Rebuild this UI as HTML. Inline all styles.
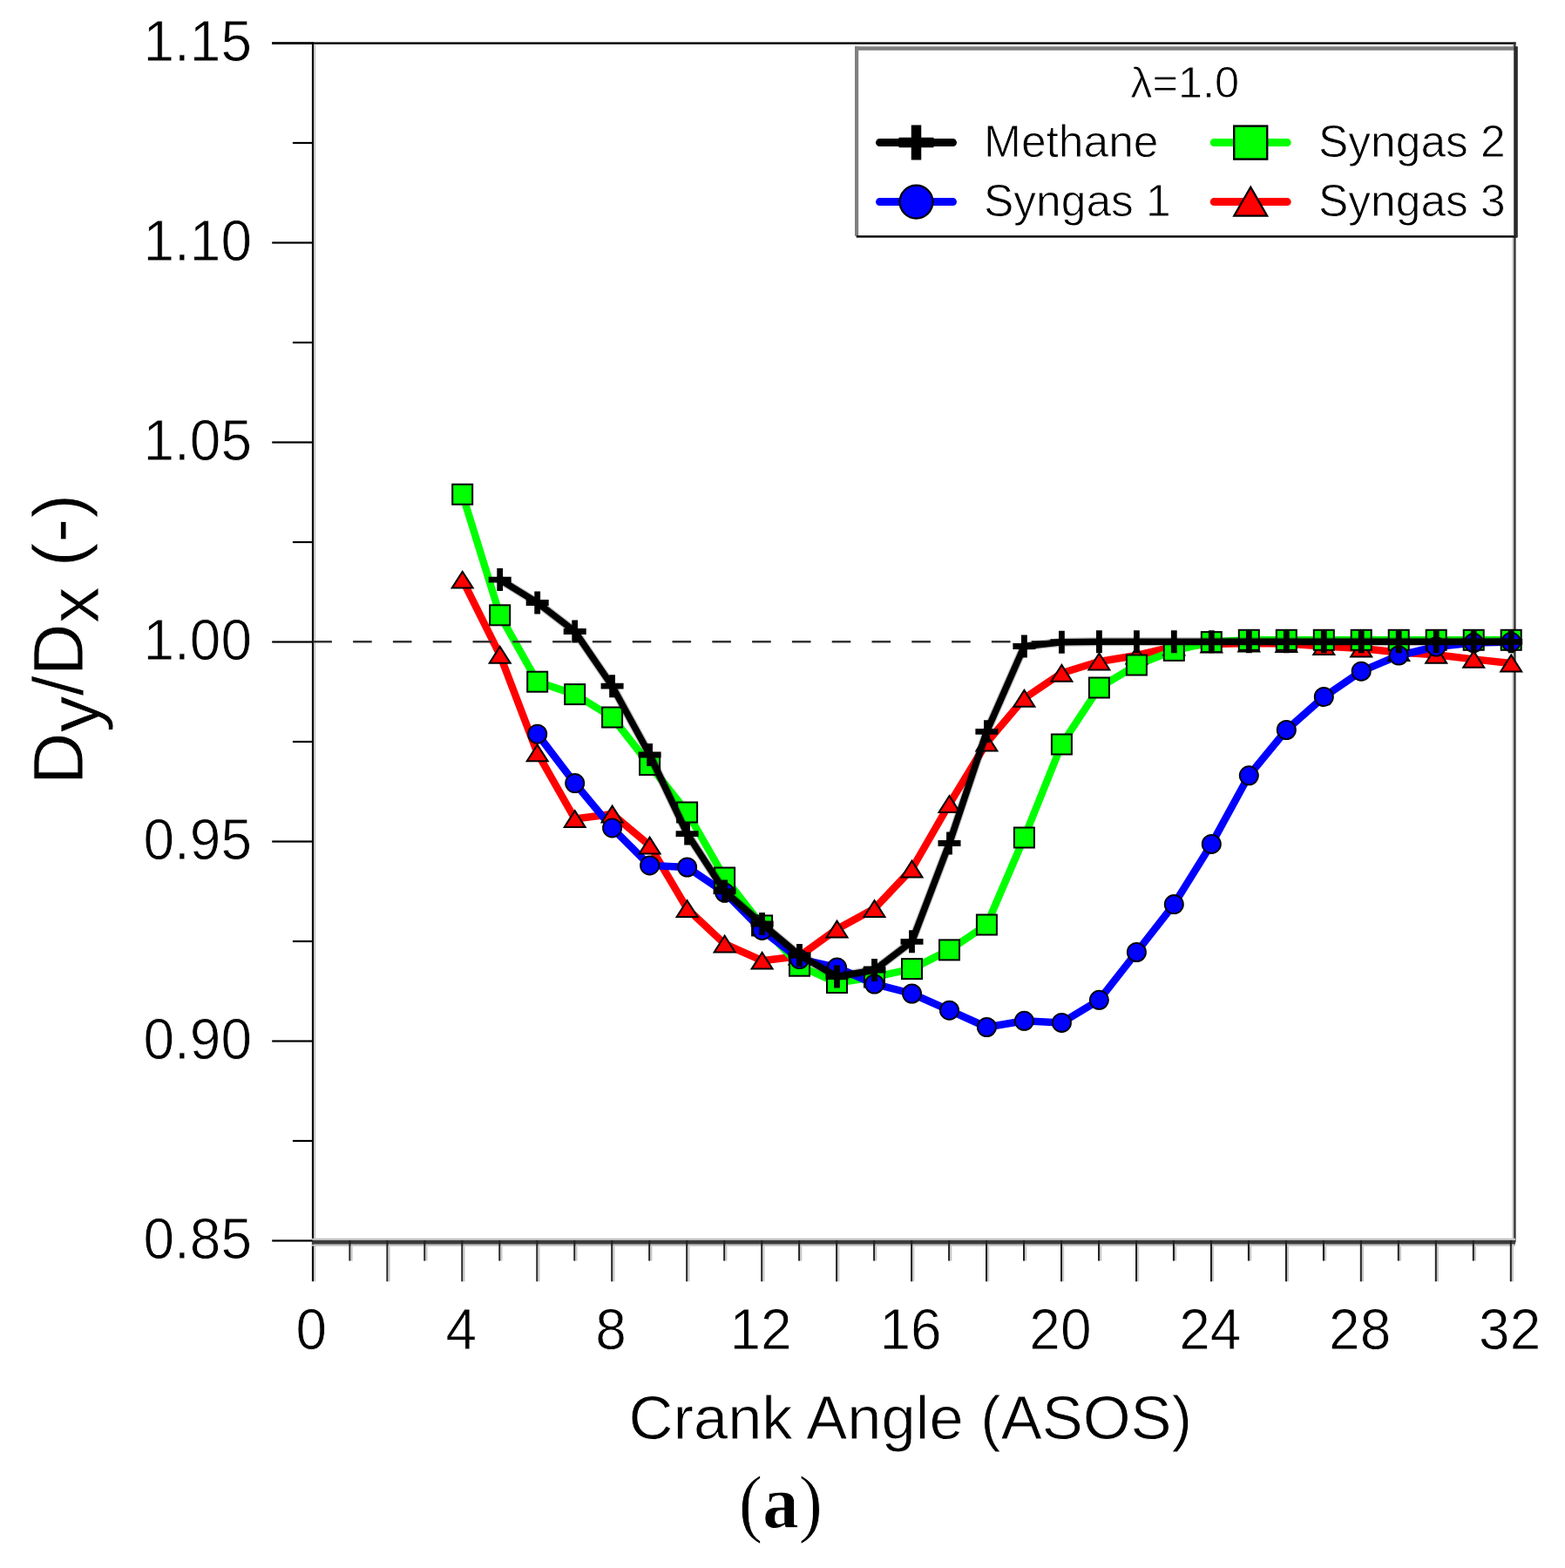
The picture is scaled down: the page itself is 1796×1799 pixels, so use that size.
<!DOCTYPE html>
<html><head><meta charset="utf-8"><title>Dy/Dx vs Crank Angle</title>
<style>
html,body{margin:0;padding:0;background:#fff;}
body{width:1796px;height:1799px;overflow:hidden;}
svg{display:block;}
text{font-family:"Liberation Sans",Arial,sans-serif;fill:#000;stroke:#fff;stroke-width:0.8px;}
</style></head><body>
<svg width="1796" height="1799" viewBox="0 0 1796 1799">
<rect x="0" y="0" width="1796" height="1799" fill="#fff"/>
<rect x="312" y="48.4" width="1427.5" height="2.4" fill="#000"/>
<rect x="357.9" y="48.4" width="2.2" height="1421.8" fill="#000"/>
<rect x="360.1" y="50.8" width="2.1" height="1370" fill="#c6c6c6"/>
<rect x="360.1" y="1429.7" width="2.1" height="40.6" fill="#c6c6c6"/>
<rect x="1735.4" y="50.8" width="1.8" height="1370" fill="#c6c6c6"/>
<rect x="1737.2" y="48.4" width="2.4" height="1377" fill="#333"/>
<rect x="358" y="1420.7" width="1381" height="2.3" fill="#c0c0c0"/>
<rect x="358" y="1423" width="1381" height="4.7" fill="#3c3c3c"/>
<rect x="358" y="1427.7" width="1381" height="2.0" fill="#c0c0c0"/>
<rect x="312.2" y="48.4" width="46.3" height="2.2" fill="#000"/>
<rect x="335.9" y="162.9" width="22.6" height="2.2" fill="#000"/>
<rect x="312.2" y="277.4" width="46.3" height="2.2" fill="#000"/>
<rect x="335.9" y="391.9" width="22.6" height="2.2" fill="#000"/>
<rect x="312.2" y="506.4" width="46.3" height="2.2" fill="#000"/>
<rect x="335.9" y="620.9" width="22.6" height="2.2" fill="#000"/>
<rect x="312.2" y="735.4" width="46.3" height="2.2" fill="#000"/>
<rect x="335.9" y="849.9" width="22.6" height="2.2" fill="#000"/>
<rect x="312.2" y="964.4" width="46.3" height="2.2" fill="#000"/>
<rect x="335.9" y="1078.9" width="22.6" height="2.2" fill="#000"/>
<rect x="312.2" y="1193.4" width="46.3" height="2.2" fill="#000"/>
<rect x="335.9" y="1307.9" width="22.6" height="2.2" fill="#000"/>
<rect x="312.2" y="1422.4" width="46.3" height="2.2" fill="#000"/>
<rect x="400.4" y="1423" width="2.1" height="23.6" fill="#222"/>
<rect x="402.5" y="1429.7" width="2.1" height="16.9" fill="#c6c6c6"/>
<rect x="443.4" y="1423" width="2.1" height="47.3" fill="#222"/>
<rect x="445.5" y="1429.7" width="2.1" height="40.6" fill="#c6c6c6"/>
<rect x="486.3" y="1423" width="2.1" height="23.6" fill="#222"/>
<rect x="488.4" y="1429.7" width="2.1" height="16.9" fill="#c6c6c6"/>
<rect x="529.3" y="1423" width="2.1" height="47.3" fill="#222"/>
<rect x="531.4" y="1429.7" width="2.1" height="40.6" fill="#c6c6c6"/>
<rect x="572.3" y="1423" width="2.1" height="23.6" fill="#222"/>
<rect x="574.4" y="1429.7" width="2.1" height="16.9" fill="#c6c6c6"/>
<rect x="615.3" y="1423" width="2.1" height="47.3" fill="#222"/>
<rect x="617.4" y="1429.7" width="2.1" height="40.6" fill="#c6c6c6"/>
<rect x="658.3" y="1423" width="2.1" height="23.6" fill="#222"/>
<rect x="660.4" y="1429.7" width="2.1" height="16.9" fill="#c6c6c6"/>
<rect x="701.2" y="1423" width="2.1" height="47.3" fill="#222"/>
<rect x="703.3" y="1429.7" width="2.1" height="40.6" fill="#c6c6c6"/>
<rect x="744.2" y="1423" width="2.1" height="23.6" fill="#222"/>
<rect x="746.3" y="1429.7" width="2.1" height="16.9" fill="#c6c6c6"/>
<rect x="787.2" y="1423" width="2.1" height="47.3" fill="#222"/>
<rect x="789.3" y="1429.7" width="2.1" height="40.6" fill="#c6c6c6"/>
<rect x="830.2" y="1423" width="2.1" height="23.6" fill="#222"/>
<rect x="832.3" y="1429.7" width="2.1" height="16.9" fill="#c6c6c6"/>
<rect x="873.2" y="1423" width="2.1" height="47.3" fill="#222"/>
<rect x="875.3" y="1429.7" width="2.1" height="40.6" fill="#c6c6c6"/>
<rect x="916.1" y="1423" width="2.1" height="23.6" fill="#222"/>
<rect x="918.2" y="1429.7" width="2.1" height="16.9" fill="#c6c6c6"/>
<rect x="959.1" y="1423" width="2.1" height="47.3" fill="#222"/>
<rect x="961.2" y="1429.7" width="2.1" height="40.6" fill="#c6c6c6"/>
<rect x="1002.1" y="1423" width="2.1" height="23.6" fill="#222"/>
<rect x="1004.2" y="1429.7" width="2.1" height="16.9" fill="#c6c6c6"/>
<rect x="1045.1" y="1423" width="2.1" height="47.3" fill="#222"/>
<rect x="1047.2" y="1429.7" width="2.1" height="40.6" fill="#c6c6c6"/>
<rect x="1088.1" y="1423" width="2.1" height="23.6" fill="#222"/>
<rect x="1090.2" y="1429.7" width="2.1" height="16.9" fill="#c6c6c6"/>
<rect x="1131.0" y="1423" width="2.1" height="47.3" fill="#222"/>
<rect x="1133.1" y="1429.7" width="2.1" height="40.6" fill="#c6c6c6"/>
<rect x="1174.0" y="1423" width="2.1" height="23.6" fill="#222"/>
<rect x="1176.1" y="1429.7" width="2.1" height="16.9" fill="#c6c6c6"/>
<rect x="1217.0" y="1423" width="2.1" height="47.3" fill="#222"/>
<rect x="1219.1" y="1429.7" width="2.1" height="40.6" fill="#c6c6c6"/>
<rect x="1260.0" y="1423" width="2.1" height="23.6" fill="#222"/>
<rect x="1262.1" y="1429.7" width="2.1" height="16.9" fill="#c6c6c6"/>
<rect x="1303.0" y="1423" width="2.1" height="47.3" fill="#222"/>
<rect x="1305.1" y="1429.7" width="2.1" height="40.6" fill="#c6c6c6"/>
<rect x="1345.9" y="1423" width="2.1" height="23.6" fill="#222"/>
<rect x="1348.0" y="1429.7" width="2.1" height="16.9" fill="#c6c6c6"/>
<rect x="1388.9" y="1423" width="2.1" height="47.3" fill="#222"/>
<rect x="1391.0" y="1429.7" width="2.1" height="40.6" fill="#c6c6c6"/>
<rect x="1431.9" y="1423" width="2.1" height="23.6" fill="#222"/>
<rect x="1434.0" y="1429.7" width="2.1" height="16.9" fill="#c6c6c6"/>
<rect x="1474.9" y="1423" width="2.1" height="47.3" fill="#222"/>
<rect x="1477.0" y="1429.7" width="2.1" height="40.6" fill="#c6c6c6"/>
<rect x="1517.9" y="1423" width="2.1" height="23.6" fill="#222"/>
<rect x="1520.0" y="1429.7" width="2.1" height="16.9" fill="#c6c6c6"/>
<rect x="1560.8" y="1423" width="2.1" height="47.3" fill="#222"/>
<rect x="1562.9" y="1429.7" width="2.1" height="40.6" fill="#c6c6c6"/>
<rect x="1603.8" y="1423" width="2.1" height="23.6" fill="#222"/>
<rect x="1605.9" y="1429.7" width="2.1" height="16.9" fill="#c6c6c6"/>
<rect x="1646.8" y="1423" width="2.1" height="47.3" fill="#222"/>
<rect x="1648.9" y="1429.7" width="2.1" height="40.6" fill="#c6c6c6"/>
<rect x="1689.8" y="1423" width="2.1" height="23.6" fill="#222"/>
<rect x="1691.9" y="1429.7" width="2.1" height="16.9" fill="#c6c6c6"/>
<rect x="1732.8" y="1423" width="2.1" height="47.3" fill="#222"/>
<rect x="1734.9" y="1429.7" width="2.1" height="40.6" fill="#c6c6c6"/>
<text transform="translate(289,70.3) scale(1,1.045)" font-size="64.0" text-anchor="end">1.15</text>
<text transform="translate(289,299.3) scale(1,1.045)" font-size="64.0" text-anchor="end">1.10</text>
<text transform="translate(289,528.3) scale(1,1.045)" font-size="64.0" text-anchor="end">1.05</text>
<text transform="translate(289,757.3) scale(1,1.045)" font-size="64.0" text-anchor="end">1.00</text>
<text transform="translate(289,986.3) scale(1,1.045)" font-size="64.0" text-anchor="end">0.95</text>
<text transform="translate(289,1215.3) scale(1,1.045)" font-size="64.0" text-anchor="end">0.90</text>
<text transform="translate(289,1444.3) scale(1,1.045)" font-size="64.0" text-anchor="end">0.85</text>
<text transform="translate(357.3,1548.2) scale(1,1.045)" font-size="64.0" text-anchor="middle">0</text>
<text transform="translate(529.2,1548.2) scale(1,1.045)" font-size="64.0" text-anchor="middle">4</text>
<text transform="translate(701.1,1548.2) scale(1,1.045)" font-size="64.0" text-anchor="middle">8</text>
<text transform="translate(873.1,1548.2) scale(1,1.045)" font-size="64.0" text-anchor="middle">12</text>
<text transform="translate(1045.0,1548.2) scale(1,1.045)" font-size="64.0" text-anchor="middle">16</text>
<text transform="translate(1216.9,1548.2) scale(1,1.045)" font-size="64.0" text-anchor="middle">20</text>
<text transform="translate(1388.8,1548.2) scale(1,1.045)" font-size="64.0" text-anchor="middle">24</text>
<text transform="translate(1560.7,1548.2) scale(1,1.045)" font-size="64.0" text-anchor="middle">28</text>
<text transform="translate(1732.7,1548.2) scale(1,1.045)" font-size="64.0" text-anchor="middle">32</text>
<text transform="translate(1044.8,1650.8) scale(1.0000,1)" font-size="70.5" text-anchor="middle">Crank Angle (ASOS)</text>
<text transform="translate(95,733.7) rotate(-90) scale(1.0180,1)" font-size="82.0" text-anchor="middle">D<tspan dy="18">y</tspan><tspan dy="-18">/D</tspan><tspan dy="18">x</tspan><tspan dy="-18"> (-)</tspan></text>
<text transform="translate(895.9,1753) scale(0.96,1)" font-size="86" text-anchor="middle" style="font-family:'Liberation Serif','Times New Roman',serif">(<tspan font-weight="bold">a</tspan>)</text>
<g fill="none" stroke-linejoin="round" stroke-linecap="round" stroke-width="8.5">
<polyline points="530.7,665.2 573.7,751.3 616.7,863.9 659.7,939.5 702.6,934.0 745.6,970.0 788.6,1042.6 831.6,1083.0 874.6,1102.2 917.5,1097.0 960.5,1066.0 1003.5,1042.5 1046.5,997.0 1089.5,922.5 1132.4,852.0 1175.4,801.3 1218.4,772.3 1261.4,759.0 1304.4,752.0 1347.3,742.0 1390.3,739.0 1433.3,738.0 1476.3,738.5 1519.3,741.5 1562.2,744.1 1605.2,748.5 1648.2,751.3 1691.2,756.4 1734.2,761.0" stroke="#ff0000"/>
<polyline points="530.7,567.2 573.7,705.8 616.7,782.2 659.7,796.6 702.6,823.0 745.6,877.5 788.6,932.0 831.6,1007.0 874.6,1061.9 917.5,1108.2 960.5,1127.5 1003.5,1121.0 1046.5,1111.6 1089.5,1089.9 1132.4,1061.0 1175.4,961.0 1218.4,854.0 1261.4,789.0 1304.4,763.0 1347.3,746.4 1390.3,736.6 1433.3,734.3 1476.3,734.3 1519.3,734.3 1562.2,734.3 1605.2,734.3 1648.2,734.3 1691.2,734.3 1734.2,734.3" stroke="#00ff00"/>
<polyline points="616.7,842.2 659.7,898.6 702.6,949.9 745.6,992.9 788.6,995.0 831.6,1024.0 874.6,1067.4 917.5,1100.5 960.5,1110.0 1003.5,1129.0 1046.5,1140.0 1089.5,1159.2 1132.4,1178.5 1175.4,1171.3 1218.4,1173.4 1261.4,1147.3 1304.4,1092.5 1347.3,1037.6 1390.3,968.4 1433.3,889.8 1476.3,837.5 1519.3,799.5 1562.2,770.2 1605.2,752.0 1648.2,742.0 1691.2,737.5 1734.2,736.5" stroke="#0000ff"/>
</g>
<line x1="359.3" y1="736.3" x2="1736" y2="736.3" stroke="#333" stroke-width="2.6" stroke-dasharray="21.6 24.2"/>
<g fill="#ff0000" stroke="#000" stroke-width="2" stroke-linejoin="miter"><path d="M530.7 655.8L542.7 674.6L518.7 674.6Z"/><path d="M573.7 741.9L585.7 760.7L561.7 760.7Z"/><path d="M616.7 854.5L628.7 873.3L604.7 873.3Z"/><path d="M659.7 930.1L671.7 948.9L647.7 948.9Z"/><path d="M702.6 924.6L714.6 943.4L690.6 943.4Z"/><path d="M745.6 960.6L757.6 979.4L733.6 979.4Z"/><path d="M788.6 1033.2L800.6 1052.0L776.6 1052.0Z"/><path d="M831.6 1073.6L843.6 1092.4L819.6 1092.4Z"/><path d="M874.6 1092.8L886.6 1111.6L862.6 1111.6Z"/><path d="M917.5 1087.6L929.5 1106.4L905.5 1106.4Z"/><path d="M960.5 1056.6L972.5 1075.4L948.5 1075.4Z"/><path d="M1003.5 1033.1L1015.5 1051.9L991.5 1051.9Z"/><path d="M1046.5 987.6L1058.5 1006.4L1034.5 1006.4Z"/><path d="M1089.5 913.1L1101.5 931.9L1077.5 931.9Z"/><path d="M1132.4 842.6L1144.4 861.4L1120.4 861.4Z"/><path d="M1175.4 791.9L1187.4 810.7L1163.4 810.7Z"/><path d="M1218.4 762.9L1230.4 781.7L1206.4 781.7Z"/><path d="M1261.4 749.6L1273.4 768.4L1249.4 768.4Z"/><path d="M1304.4 742.6L1316.4 761.4L1292.4 761.4Z"/><path d="M1347.3 732.6L1359.3 751.4L1335.3 751.4Z"/><path d="M1390.3 729.6L1402.3 748.4L1378.3 748.4Z"/><path d="M1433.3 728.6L1445.3 747.4L1421.3 747.4Z"/><path d="M1476.3 729.1L1488.3 747.9L1464.3 747.9Z"/><path d="M1519.3 732.1L1531.3 750.9L1507.3 750.9Z"/><path d="M1562.2 734.7L1574.2 753.5L1550.2 753.5Z"/><path d="M1605.2 739.1L1617.2 757.9L1593.2 757.9Z"/><path d="M1648.2 741.9L1660.2 760.7L1636.2 760.7Z"/><path d="M1691.2 747.0L1703.2 765.8L1679.2 765.8Z"/><path d="M1734.2 751.6L1746.2 770.4L1722.2 770.4Z"/></g>
<g fill="#00ff00" stroke="#000" stroke-width="2"><rect x="519.2" y="555.7" width="23" height="23"/><rect x="562.2" y="694.3" width="23" height="23"/><rect x="605.2" y="770.7" width="23" height="23"/><rect x="648.2" y="785.1" width="23" height="23"/><rect x="691.1" y="811.5" width="23" height="23"/><rect x="734.1" y="866.0" width="23" height="23"/><rect x="777.1" y="920.5" width="23" height="23"/><rect x="820.1" y="995.5" width="23" height="23"/><rect x="863.1" y="1050.4" width="23" height="23"/><rect x="906.0" y="1096.7" width="23" height="23"/><rect x="949.0" y="1116.0" width="23" height="23"/><rect x="992.0" y="1109.5" width="23" height="23"/><rect x="1035.0" y="1100.1" width="23" height="23"/><rect x="1078.0" y="1078.4" width="23" height="23"/><rect x="1120.9" y="1049.5" width="23" height="23"/><rect x="1163.9" y="949.5" width="23" height="23"/><rect x="1206.9" y="842.5" width="23" height="23"/><rect x="1249.9" y="777.5" width="23" height="23"/><rect x="1292.9" y="751.5" width="23" height="23"/><rect x="1335.8" y="734.9" width="23" height="23"/><rect x="1378.8" y="725.1" width="23" height="23"/><rect x="1421.8" y="722.8" width="23" height="23"/><rect x="1464.8" y="722.8" width="23" height="23"/><rect x="1507.8" y="722.8" width="23" height="23"/><rect x="1550.7" y="722.8" width="23" height="23"/><rect x="1593.7" y="722.8" width="23" height="23"/><rect x="1636.7" y="722.8" width="23" height="23"/><rect x="1679.7" y="722.8" width="23" height="23"/><rect x="1722.7" y="722.8" width="23" height="23"/></g>
<polyline points="616.7,842.2 659.7,898.6 702.6,949.9 745.6,992.9 788.6,995.0 831.6,1024.0 874.6,1067.4 917.5,1100.5 960.5,1110.0 1003.5,1129.0 1046.5,1140.0 1089.5,1159.2 1132.4,1178.5 1175.4,1171.3 1218.4,1173.4 1261.4,1147.3 1304.4,1092.5 1347.3,1037.6 1390.3,968.4 1433.3,889.8 1476.3,837.5 1519.3,799.5 1562.2,770.2 1605.2,752.0 1648.2,742.0 1691.2,737.5 1734.2,736.5" fill="none" stroke="#0000ff" stroke-width="8.5" stroke-linejoin="round" opacity="0"/>
<g fill="#0000ff" stroke="#000" stroke-width="1.8"><circle cx="616.7" cy="842.2" r="10.6"/><circle cx="659.7" cy="898.6" r="10.6"/><circle cx="702.6" cy="949.9" r="10.6"/><circle cx="745.6" cy="992.9" r="10.6"/><circle cx="788.6" cy="995.0" r="10.6"/><circle cx="831.6" cy="1024.0" r="10.6"/><circle cx="874.6" cy="1067.4" r="10.6"/><circle cx="917.5" cy="1100.5" r="10.6"/><circle cx="960.5" cy="1110.0" r="10.6"/><circle cx="1003.5" cy="1129.0" r="10.6"/><circle cx="1046.5" cy="1140.0" r="10.6"/><circle cx="1089.5" cy="1159.2" r="10.6"/><circle cx="1132.4" cy="1178.5" r="10.6"/><circle cx="1175.4" cy="1171.3" r="10.6"/><circle cx="1218.4" cy="1173.4" r="10.6"/><circle cx="1261.4" cy="1147.3" r="10.6"/><circle cx="1304.4" cy="1092.5" r="10.6"/><circle cx="1347.3" cy="1037.6" r="10.6"/><circle cx="1390.3" cy="968.4" r="10.6"/><circle cx="1433.3" cy="889.8" r="10.6"/><circle cx="1476.3" cy="837.5" r="10.6"/><circle cx="1519.3" cy="799.5" r="10.6"/><circle cx="1562.2" cy="770.2" r="10.6"/><circle cx="1605.2" cy="752.0" r="10.6"/><circle cx="1648.2" cy="742.0" r="10.6"/><circle cx="1691.2" cy="737.5" r="10.6"/><circle cx="1734.2" cy="736.5" r="10.6"/></g>
<polyline points="573.7,665.1 616.7,691.5 659.7,724.5 702.6,787.2 745.6,866.0 788.6,956.6 831.6,1022.6 874.6,1060.0 917.5,1096.0 960.5,1120.5 1003.5,1113.0 1046.5,1080.3 1089.5,967.5 1132.4,839.3 1175.4,741.5 1218.4,736.7 1261.4,736.3 1304.4,736.3 1347.3,736.3 1390.3,736.3 1433.3,736.3 1476.3,736.3 1519.3,736.3 1562.2,736.3 1605.2,736.3 1648.2,736.3 1691.2,736.3 1734.2,736.3" fill="none" stroke="#000" stroke-opacity="0.25" stroke-width="10" stroke-linejoin="round" stroke-linecap="round"/>
<polyline points="573.7,665.1 616.7,691.5 659.7,724.5 702.6,787.2 745.6,866.0 788.6,956.6 831.6,1022.6 874.6,1060.0 917.5,1096.0 960.5,1120.5 1003.5,1113.0 1046.5,1080.3 1089.5,967.5 1132.4,839.3 1175.4,741.5 1218.4,736.7 1261.4,736.3 1304.4,736.3 1347.3,736.3 1390.3,736.3 1433.3,736.3 1476.3,736.3 1519.3,736.3 1562.2,736.3 1605.2,736.3 1648.2,736.3 1691.2,736.3 1734.2,736.3" fill="none" stroke="#000" stroke-width="7.6" stroke-linejoin="round" stroke-linecap="round"/>
<g stroke="#000" stroke-width="6.8" fill="none"><path d="M560.7 665.1h26M573.7 652.1v26"/><path d="M603.7 691.5h26M616.7 678.5v26"/><path d="M646.7 724.5h26M659.7 711.5v26"/><path d="M689.6 787.2h26M702.6 774.2v26"/><path d="M732.6 866.0h26M745.6 853.0v26"/><path d="M775.6 956.6h26M788.6 943.6v26"/><path d="M818.6 1022.6h26M831.6 1009.6v26"/><path d="M861.6 1060.0h26M874.6 1047.0v26"/><path d="M904.5 1096.0h26M917.5 1083.0v26"/><path d="M947.5 1120.5h26M960.5 1107.5v26"/><path d="M990.5 1113.0h26M1003.5 1100.0v26"/><path d="M1033.5 1080.3h26M1046.5 1067.3v26"/><path d="M1076.5 967.5h26M1089.5 954.5v26"/><path d="M1119.4 839.3h26M1132.4 826.3v26"/><path d="M1162.4 741.5h26M1175.4 728.5v26"/><path d="M1205.4 736.7h26M1218.4 723.7v26"/><path d="M1248.4 736.3h26M1261.4 723.3v26"/><path d="M1291.4 736.3h26M1304.4 723.3v26"/><path d="M1334.3 736.3h26M1347.3 723.3v26"/><path d="M1377.3 736.3h26M1390.3 723.3v26"/><path d="M1420.3 736.3h26M1433.3 723.3v26"/><path d="M1463.3 736.3h26M1476.3 723.3v26"/><path d="M1506.3 736.3h26M1519.3 723.3v26"/><path d="M1549.2 736.3h26M1562.2 723.3v26"/><path d="M1592.2 736.3h26M1605.2 723.3v26"/><path d="M1635.2 736.3h26M1648.2 723.3v26"/><path d="M1678.2 736.3h26M1691.2 723.3v26"/><path d="M1721.2 736.3h26M1734.2 723.3v26"/></g>
<rect x="983" y="55" width="756" height="216" fill="#fff"/>
<rect x="981" y="53.3" width="760" height="4.5" fill="#808080"/>
<rect x="981" y="53.3" width="4.2" height="217.5" fill="#808080"/>
<rect x="982.7" y="270.2" width="758.5" height="2.4" fill="#000"/>
<rect x="1737.2" y="53.3" width="4.6" height="219" fill="#2a2a2a"/>
<text transform="translate(1359.6,111.8) scale(1.0100,1)" font-size="50.0" text-anchor="middle">&#955;=1.0</text>
<line x1="1009.5" y1="163.6" x2="1093.5" y2="163.6" stroke="#000" stroke-width="9" stroke-linecap="round"/>
<path d="M1031.5 163.6h40M1051.5 143.6v40" stroke="#000" stroke-width="11.5" fill="none"/>
<line x1="1009.5" y1="231.6" x2="1093.5" y2="231.6" stroke="#0000ff" stroke-width="9" stroke-linecap="round"/>
<circle cx="1051.5" cy="231.6" r="19" fill="#0000ff" stroke="#000" stroke-width="2.2"/>
<line x1="1393.2" y1="163.6" x2="1477.2" y2="163.6" stroke="#00ff00" stroke-width="9" stroke-linecap="round"/>
<rect x="1416.2" y="144.6" width="38" height="38" fill="#00ff00" stroke="#000" stroke-width="2.4"/>
<line x1="1393.2" y1="231.6" x2="1477.2" y2="231.6" stroke="#ff0000" stroke-width="9" stroke-linecap="round"/>
<path d="M1435.2 214.6L1454.2 247.6L1416.2 247.6Z" fill="#ff0000" stroke="#000" stroke-width="2.2"/>
<text transform="translate(1129.0,179.6) scale(1.0000,1)" font-size="51.5" text-anchor="start">Methane</text>
<text transform="translate(1129.0,248.0) scale(1.0000,1)" font-size="51.5" text-anchor="start">Syngas 1</text>
<text transform="translate(1513.0,179.6) scale(1.0000,1)" font-size="51.5" text-anchor="start">Syngas 2</text>
<text transform="translate(1513.0,248.0) scale(1.0000,1)" font-size="51.5" text-anchor="start">Syngas 3</text>
</svg>
</body></html>
